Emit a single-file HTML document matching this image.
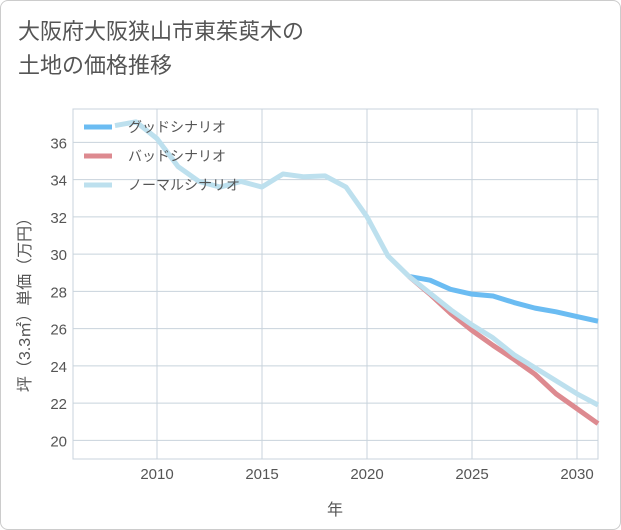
<!DOCTYPE html>
<html><head><meta charset="utf-8"><style>
body{margin:0;background:#fff;}
#card{position:absolute;left:0;top:0;width:619px;height:528px;border:1px solid #ccc;border-radius:8px;background:#fff;overflow:hidden;}
#title{position:absolute;left:17px;top:14px;font:22px "Liberation Sans","Noto Sans CJK JP",sans-serif;color:#555;line-height:34px;}
svg{position:absolute;left:0;top:0;}
text{font-family:"Liberation Sans","Noto Sans CJK JP",sans-serif;}
</style></head><body>
<div id="card">
<div id="title">大阪府大阪狭山市東茱萸木の<br>土地の価格推移</div>
<svg id="chart" width="621" height="530"></svg>
</div>
<script>
const years=[2008,2009,2010,2011,2012,2013,2014,2015,2016,2017,2018,2019,2020,2021,2022];
const histValues=[36.9,37.1,36.2,34.7,33.9,33.6,33.9,33.6,34.3,34.15,34.2,33.6,32.0,29.9,28.8];
const futYears=[2022,2023,2024,2025,2026,2027,2028,2029,2030,2031];
const goodValues=[28.8,28.6,28.1,27.85,27.75,27.4,27.1,26.9,26.65,26.4];
const badValues=[28.8,27.85,26.8,25.9,25.1,24.35,23.55,22.5,21.7,20.9];
const normalValues=[28.8,27.9,27.0,26.2,25.5,24.6,23.9,23.2,22.5,21.9];
const xTicks=[2010,2015,2020,2025,2030];
const yTicks=[20,22,24,26,28,30,32,34,36];
const L=72,R=597,T=108,B=458;
const x=v=>L+(v-2006)*(R-L)/25;
const y=v=>B-(v-19)*(B-T)/(37.79-19);
const svg=document.getElementById('chart');const NS='http://www.w3.org/2000/svg';
function mk(t,a,p){const e=document.createElementNS(NS,t);for(const k in a)e.setAttribute(k,a[k]);(p||svg).appendChild(e);return e;}
let e=mk('rect',{x:L,y:T,width:R-L,height:B-T,fill:'none',stroke:'#c8d3dc'});


xTicks.forEach(v=>{let g=mk('line',{x1:x(v),x2:x(v),y1:T,y2:B,stroke:'#c8d3dc'});


let t=mk('text',{x:x(v),y:478,'text-anchor':'middle','font-size':15,fill:'#555'});t.textContent=v;

});
yTicks.forEach(v=>{let g=mk('line',{x1:L,x2:R,y1:y(v),y2:y(v),stroke:'#c8d3dc'});


let t=mk('text',{x:66,y:y(v)+6,'text-anchor':'end','font-size':15,fill:'#555'});t.textContent=v;

});
function line(xs,vs,c,name){let p=mk('polyline',{points:xs.map((v,i)=>x(v)+','+y(vs[i])).join(' '),fill:'none',stroke:c,'stroke-width':5,'stroke-linejoin':'round'});

}
line(futYears,goodValues,'#6bbcf2','good-scenario-line');
line(futYears,badValues,'#dd8a90','bad-scenario-line');
line(years,histValues,'#bde0ee','normal-history-line');
line(futYears,normalValues,'#bde0ee','normal-scenario-line');
const leg=[['グッドシナリオ','#6bbcf2'],['バッドシナリオ','#dd8a90'],['ノーマルシナリオ','#bde0ee']];
leg.forEach((l,i)=>{const yy=126+i*29;let r=mk('line',{x1:83,x2:111,y1:yy,y2:yy,stroke:l[1],'stroke-width':5});


let t=mk('text',{x:127,y:yy+5,'font-size':14,fill:'#555'});t.textContent=l[0];

});
let xl=mk('text',{x:334,y:514,'text-anchor':'middle','font-size':16,fill:'#555'});xl.textContent='年';


let yl=mk('text',{x:0,y:0,'text-anchor':'middle','font-size':16,fill:'#555',transform:'translate(29,300) rotate(-90)'});yl.textContent='坪（3.3㎡）単価（万円）';


</script>
</body></html>
